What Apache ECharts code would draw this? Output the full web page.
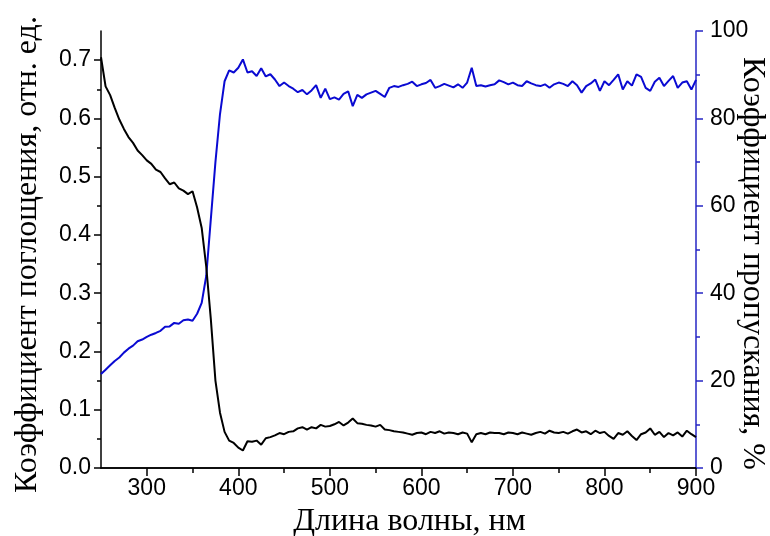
<!DOCTYPE html>
<html>
<head>
<meta charset="utf-8">
<script src="https://cdn.jsdelivr.net/npm/echarts@6/dist/echarts.min.js"></script>
<style>
  html, body { margin: 0; padding: 0; background: #fff; }
  #chart { width: 770px; height: 536px; }
</style>
</head>
<body>
<div id="chart"></div>
<script>
// wavelength, nm (5 nm step)
var wavelengths = [
  250, 255, 260, 265, 270, 275, 280, 285, 290, 295,
  300, 305, 310, 315, 320, 325, 330, 335, 340, 345,
  350, 355, 360, 365, 370, 375, 380, 385, 390, 395,
  400, 405, 410, 415, 420, 425, 430, 435, 440, 445,
  450, 455, 460, 465, 470, 475, 480, 485, 490, 495,
  500, 505, 510, 515, 520, 525, 530, 535, 540, 545,
  550, 555, 560, 565, 570, 575, 580, 585, 590, 595,
  600, 605, 610, 615, 620, 625, 630, 635, 640, 645,
  650, 655, 660, 665, 670, 675, 680, 685, 690, 695,
  700, 705, 710, 715, 720, 725, 730, 735, 740, 745,
  750, 755, 760, 765, 770, 775, 780, 785, 790, 795,
  800, 805, 810, 815, 820, 825, 830, 835, 840, 845,
  850, 855, 860, 865, 870, 875, 880, 885, 890, 895,
  900
];

// absorption coefficient, rel. units (left axis)
var absorption = [
  0.705, 0.655, 0.640, 0.618, 0.598, 0.582, 0.568, 0.558, 0.545, 0.537,
  0.528, 0.522, 0.512, 0.508, 0.497, 0.487, 0.490, 0.480, 0.476, 0.470,
  0.475, 0.447, 0.412, 0.345, 0.255, 0.150, 0.095, 0.062, 0.047, 0.043,
  0.035, 0.030, 0.046, 0.045, 0.047, 0.040, 0.051, 0.053, 0.056, 0.060,
  0.058, 0.062, 0.063, 0.068, 0.070, 0.066, 0.070, 0.068, 0.074, 0.071,
  0.072, 0.075, 0.079, 0.073, 0.078, 0.085, 0.077, 0.076, 0.074, 0.073,
  0.071, 0.074, 0.066, 0.065, 0.063, 0.062, 0.061, 0.059, 0.057, 0.060,
  0.061, 0.058, 0.062, 0.060, 0.063, 0.059, 0.061, 0.060, 0.058, 0.061,
  0.059, 0.044, 0.058, 0.060, 0.058, 0.061, 0.060, 0.060, 0.058, 0.061,
  0.060, 0.058, 0.061, 0.059, 0.057, 0.060, 0.062, 0.059, 0.064, 0.061,
  0.060, 0.062, 0.059, 0.063, 0.066, 0.061, 0.063, 0.058, 0.064, 0.060,
  0.062, 0.055, 0.050, 0.060, 0.057, 0.063, 0.055, 0.048, 0.058, 0.061,
  0.068, 0.057, 0.062, 0.053, 0.060, 0.056, 0.061, 0.054, 0.064, 0.058,
  0.053
];

// transmission, % (right axis)
var transmission = [
  21.5, 22.5, 23.5, 24.5, 25.3, 26.4, 27.3, 28.0, 29.0, 29.4,
  30.0, 30.5, 30.9, 31.4, 32.3, 32.4, 33.2, 33.0, 33.8, 34.0,
  33.7, 35.3, 37.8, 44.0, 57.0, 70.0, 81.0, 88.5, 91.0, 90.5,
  91.6, 93.5, 90.5, 90.8, 89.7, 91.5, 89.6, 90.1, 88.9, 87.4,
  88.2, 87.4, 86.8, 86.0, 86.5, 85.5, 86.4, 87.6, 84.7, 86.8,
  84.4, 84.8, 84.3, 85.6, 86.2, 82.8, 85.4, 84.7, 85.5, 85.9,
  86.3, 85.6, 84.9, 87.0, 87.4, 87.2, 87.6, 87.9, 88.4, 87.4,
  87.8, 88.1, 88.8, 87.0, 87.4, 87.9, 87.5, 87.1, 87.8, 87.0,
  88.2, 91.6, 87.4, 87.6, 87.3, 87.6, 87.8, 88.7, 88.3, 87.8,
  88.2, 87.6, 87.4, 88.5, 88.0, 87.6, 87.4, 87.8, 87.0, 87.8,
  88.2, 87.9, 87.4, 88.5, 87.6, 85.9, 87.4, 88.0, 88.9, 86.3,
  88.5, 87.6, 88.8, 90.1, 86.6, 88.5, 87.5, 90.1, 89.5, 87.0,
  86.3, 88.4, 89.3, 87.4, 88.6, 89.7, 87.0, 88.2, 88.5, 86.6,
  88.8
];

// ticks
var xMajor = [300, 400, 500, 600, 700, 800, 900];
var xMinor = [350, 450, 550, 650, 750, 850];
var leftMajor = [0, 0.1, 0.2, 0.3, 0.4, 0.5, 0.6, 0.7];
var leftMinor = [0.05, 0.15, 0.25, 0.35, 0.45, 0.55, 0.65];
var rightMajor = [0, 20, 40, 60, 80, 100];
var rightMinor = [10, 30, 50, 70, 90];

var BLUE = '#0a0ad2';
var AXIS_BLUE = '#2626c4';
var sans = 'Liberation Sans';
var serif = 'Liberation Serif';

function pairs(ys) {
  var out = [];
  for (var i = 0; i < wavelengths.length; i++) {
    out.push([wavelengths[i], ys[i]]);
  }
  return out;
}

function xAxisDef(pos, ticks, len, inside, withLine, withLabels) {
  var ax = {
    type: 'value',
    position: pos,
    min: 250,
    max: 900,
    interval: 50,
    splitLine: { show: false },
    axisLine: { show: withLine, lineStyle: { color: '#000', width: 1.5 } },
    axisTick: { show: true, inside: inside, length: len, customValues: ticks,
                lineStyle: { color: '#000', width: 1.5 } },
    axisLabel: { show: false }
  };
  if (withLabels) {
    ax.axisLabel = {
      show: true, customValues: xMajor, margin: 9,
      color: '#000', fontSize: 23, fontFamily: sans
    };
  }
  return ax;
}

var xMain = xAxisDef('bottom', xMajor, 8, false, true, true);
xMain.name = 'Длина волны, нм';
xMain.nameLocation = 'middle';
xMain.nameGap = 38;
xMain.nameMoveOverlap = false;
xMain.nameTextStyle = { color: '#000', fontSize: 32, fontFamily: serif,
                        padding: [0, 0, 0, 22] };

var option = {
  animation: false,
  backgroundColor: '#fff',
  grid: { left: 101, right: 74, top: 31, bottom: 68, outerBoundsMode: 'none' },
  xAxis: [
    xMain,
    xAxisDef('bottom', xMinor, 5, false, false, false),
    xAxisDef('top', xMajor, 8, true, true, false),
    xAxisDef('top', xMinor, 5, true, false, false)
  ],
  yAxis: [
    {
      type: 'value', position: 'left', min: 0, max: 0.75, interval: 0.05,
      splitLine: { show: false },
      axisLine: { show: true, lineStyle: { color: '#000', width: 1.5 } },
      axisTick: { show: true, length: 7, customValues: leftMajor,
                  lineStyle: { color: '#000', width: 1.5 } },
      axisLabel: { customValues: leftMajor, margin: 10, color: '#000',
                   fontSize: 23, fontFamily: sans,
                   formatter: function (v) { return v.toFixed(1); } },
      name: 'Коэффициент поглощения, отн. ед.',
      nameLocation: 'middle', nameGap: 57, nameMoveOverlap: false,
      nameTextStyle: { color: '#000', fontSize: 32, fontFamily: serif,
                       padding: [0, 10, 0, 0] }
    },
    {
      type: 'value', position: 'right', min: 0, max: 100, interval: 10,
      splitLine: { show: false },
      axisLine: { show: true, lineStyle: { color: AXIS_BLUE, width: 1.5 } },
      axisTick: { show: true, length: 7, customValues: rightMajor,
                  lineStyle: { color: AXIS_BLUE, width: 1.5 } },
      axisLabel: { customValues: rightMajor, margin: 14, color: '#000',
                   fontSize: 23, fontFamily: sans },
      name: 'Коэффициент пропускания, %',
      nameLocation: 'middle', nameGap: 40, nameRotate: -90, nameMoveOverlap: false,
      nameTextStyle: { color: '#000', fontSize: 32, fontFamily: serif,
                       padding: [0, 0, 0, 28] }
    },
    {
      type: 'value', position: 'left', min: 0, max: 0.75, interval: 0.05,
      splitLine: { show: false },
      axisLine: { show: false },
      axisLabel: { show: false },
      axisTick: { show: true, length: 4, customValues: leftMinor,
                  lineStyle: { color: '#000', width: 1.5 } }
    },
    {
      type: 'value', position: 'right', min: 0, max: 100, interval: 10,
      splitLine: { show: false },
      axisLine: { show: false },
      axisLabel: { show: false },
      axisTick: { show: true, length: 4, customValues: rightMinor,
                  lineStyle: { color: AXIS_BLUE, width: 1.5 } }
    }
  ],
  series: [
    {
      name: 'T', type: 'line', xAxisIndex: 0, yAxisIndex: 1,
      data: pairs(transmission), showSymbol: false, symbol: 'none',
      lineStyle: { color: BLUE, width: 2 }, z: 2
    },
    {
      name: 'A', type: 'line', xAxisIndex: 0, yAxisIndex: 0,
      data: pairs(absorption), showSymbol: false, symbol: 'none',
      lineStyle: { color: '#000', width: 2 }, z: 3
    }
  ]
};

var myChart = echarts.init(document.getElementById('chart'));
myChart.setOption(option);
</script>
</body>
</html>
